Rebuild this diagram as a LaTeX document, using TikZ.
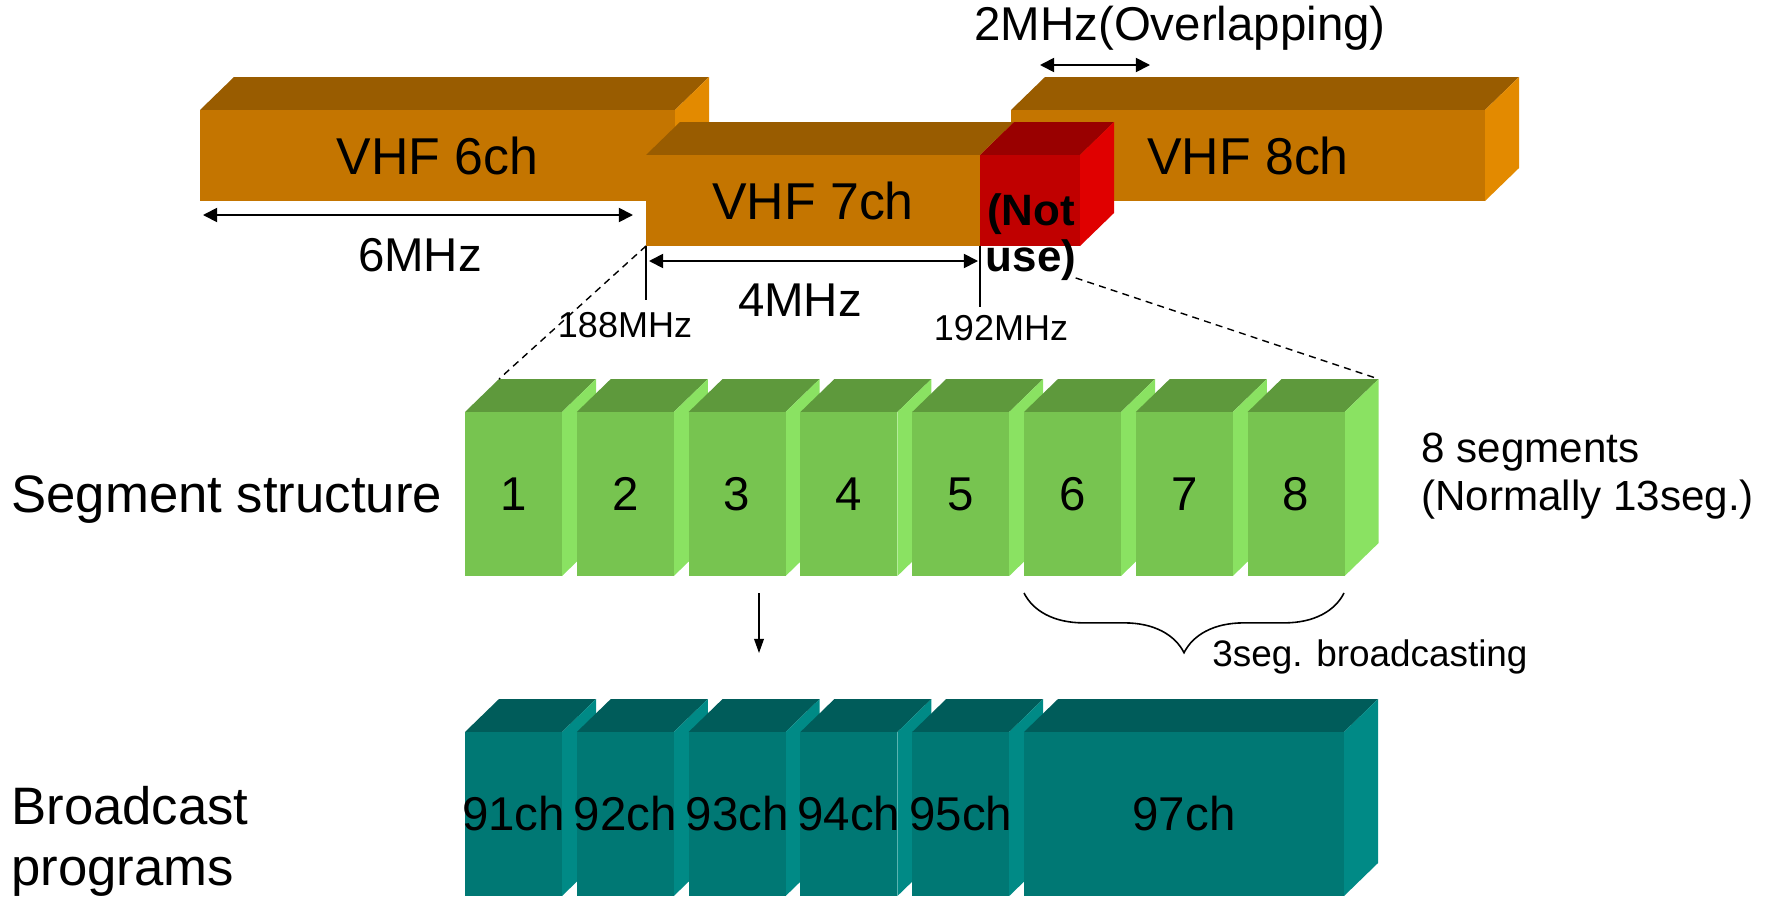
\documentclass[tikz,border=0pt]{standalone}
\usepackage{fontspec}
\setmainfont{Liberation Sans}
\usetikzlibrary{arrows.meta,calc,decorations.pathreplacing}
\definecolor{OrangeFront}{HTML}{C47500}
\definecolor{OrangeTop}{HTML}{995C00}
\definecolor{OrangeSide}{HTML}{E38A00}
\definecolor{RedFront}{HTML}{C00000}
\definecolor{RedTop}{HTML}{990000}
\definecolor{RedSide}{HTML}{E00000}
\definecolor{GreenFront}{HTML}{77C450}
\definecolor{GreenTop}{HTML}{5E993C}
\definecolor{GreenSide}{HTML}{8AE262}
\definecolor{TealFront}{HTML}{007874}
\definecolor{TealTop}{HTML}{005C5A}
\definecolor{TealSide}{HTML}{008A86}

\tikzset{
  chlabel/.style={inner sep=0pt,font=\fontsize{29.5}{34}\selectfont},
  seglabel/.style={inner sep=0pt,font=\fontsize{27}{31}\selectfont},
  proglabel/.style={inner sep=0pt,font=\fontsize{27}{31}\selectfont},
  sidelabel/.style={inner sep=0pt,align=left,anchor=west,font=\fontsize{30}{34.6}\selectfont},
  dimlabel/.style={inner sep=0pt,font=\fontsize{27}{31}\selectfont},
  freqlabel/.style={inner sep=0pt,font=\fontsize{20.5}{24}\selectfont},
  dim/.style={line width=1pt,{Triangle[length=8pt,width=8pt]}-{Triangle[length=8pt,width=8pt]}},
  tick/.style={line width=0.8pt},
  zoomline/.style={line width=0.8pt,dash pattern=on 4pt off 3pt},
  flow/.style={line width=0.8pt,-{Triangle[length=8pt,width=5.5pt]}},
  curly/.style={line width=0.9pt,decorate,decoration={brace,mirror,amplitude=34pt}}
}

% 3d block: name, left, top, right, bottom, colour family
\newcommand{\cuboid}[6]{%
  \fill[#6Top] (#2,#3) -- ++(34,-33) -- ({#4+34},{#3-33}) -- (#4,#3) -- cycle;
  \fill[#6Side] (#4,#3) -- ++(34,-33) -- ({#4+34},{#5-33}) -- (#4,#5) -- cycle;
  \fill[#6Front] (#2,#3) coordinate (#1-nw) rectangle (#4,#5) coordinate (#1-se);
  \coordinate (#1-sw) at (#2,#5);
  \coordinate (#1-bnw) at ({#2+34},{#3-33});
  \coordinate (#1-bne) at ({#4+34},{#3-33});
  \coordinate (#1-c) at ({(#2+#4)/2},{(#3+#5)/2});
}

\begin{document}
\begin{tikzpicture}[x=0.02cm,y=-0.02cm]
\useasboundingbox (0,0) rectangle (1771,896);

% VHF channels
\cuboid{vhf6}{200}{110}{675}{201}{Orange}
\cuboid{vhf8}{1011}{110}{1485}{201}{Orange}
\cuboid{vhf7}{646}{155}{980}{246}{Orange}
\cuboid{nouse}{980}{155}{1080}{246}{Red}
\node[chlabel] (ch6) at (vhf6-c) {VHF 6ch};
\node[chlabel] (ch8) at (vhf8-c) {VHF 8ch};
\node[chlabel] (ch7) at (vhf7-c) {VHF 7ch};
\node[inner sep=0pt,align=center,font=\bfseries\fontsize{25}{26}\selectfont] (nu) at (1031,237) {(Not\\use)};

\node[dimlabel] (ovl) at (1180,28) {2MHz(Overlapping)};
\coordinate (ovA) at (1040,65);
\coordinate (ovB) at (1150,65);
\draw[dim] (ovA) -- (ovB);

\coordinate (w6A) at (203,215);
\coordinate (w6B) at (633,215);
\draw[dim] (w6A) -- (w6B);
\node[dimlabel] (mhz6) at (420,255) {6MHz};

\draw[tick] (vhf7-sw) -- ++(0,54) coordinate (t188);
\draw[tick] (vhf7-se) -- ++(0,61) coordinate (t192);
\coordinate (w4A) at (649,261);
\coordinate (w4B) at (978,261);
\draw[dim] (w4A) -- (w4B);
\node[dimlabel] (mhz4) at (800,300) {4MHz};
\node[freqlabel] (f188) at (625,325) {188MHz};
\node[freqlabel] (f192) at (1001,328) {192MHz};

% segments
\foreach \i in {1,...,8}{
  \pgfmathsetmacro{\xl}{465+111.8*(\i-1)}
  \pgfmathsetmacro{\xr}{\xl+97}
  \cuboid{seg\i}{\xl}{412}{\xr}{576}{Green}
  \node[seglabel] (n\i) at (seg\i-c) {\i};
}
\draw[zoomline] (vhf7-sw) -- (seg1-bnw);
\coordinate (cut) at ($(vhf7-se)!0.24!(seg8-bne)$);
\draw[zoomline] (cut) -- (seg8-bne);

\node[sidelabel] (segtxt) at (11,500) {Segment structure};
\node[inner sep=0pt,align=left,anchor=west,font=\fontsize{24}{27.5}\selectfont] (segnote) at (1421,476) {8 segments\\(Normally 13seg.)};

\coordinate (brA) at (1024,593);
\coordinate (brB) at (1344,593);
\draw[curly] (brA) -- (brB);
\node[inner sep=0pt,anchor=west,font=\fontsize{21}{25}\selectfont] (oneseg) at (1212,657) {3seg. broadcasting};

\coordinate (dnA) at (759,593);
\coordinate (dnB) at (759,653);
\draw[flow] (dnA) -- (dnB);

% programs
\foreach \i/\ch in {1/91,2/92,3/93,4/94,5/95}{
  \pgfmathsetmacro{\xl}{465+111.8*(\i-1)}
  \pgfmathsetmacro{\xr}{\xl+97}
  \cuboid{prog\i}{\xl}{732}{\xr}{896}{Teal}
  \node[proglabel] (p\i) at (prog\i-c) {\ch ch};
}
\cuboid{prog6}{1024}{732}{1344}{896}{Teal}
\node[proglabel] (p6) at (prog6-c) {97ch};

\node[sidelabel] (progtxt) at (11,841) {Broadcast\\programs};
\end{tikzpicture}
\end{document}
